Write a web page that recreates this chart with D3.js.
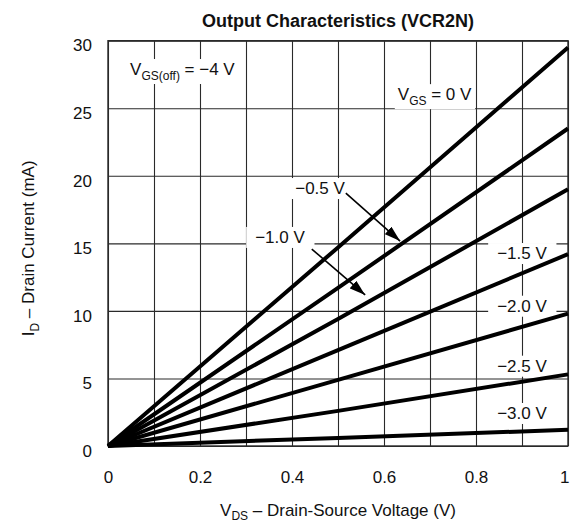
<!DOCTYPE html>
<html>
<head>
<meta charset="utf-8">
<script src="https://cdn.jsdelivr.net/npm/d3@7"></script>
<style>
  body { margin: 0; background: #fff; }
  text { font-family: "Liberation Sans", Arial, Helvetica, sans-serif; fill: #111; }
</style>
</head>
<body>
<svg id="chart"></svg>
<script>
// drain-source voltage points where the currents were read (V)
var vdsPoints = [0, 0.5, 1];

// drain current (mA) for each gate-source voltage
var currentVgs0 = [0, 14.7, 29.5];
var currentVgs05 = [0, 11.7, 23.5];
var currentVgs10 = [0, 9.4, 19.0];
var currentVgs15 = [0, 7.1, 14.2];
var currentVgs20 = [0, 4.9, 9.8];
var currentVgs25 = [0, 2.6, 5.3];
var currentVgs30 = [0, 0.6, 1.2];

var seriesNames = ["0 V", "−0.5 V", "−1.0 V", "−1.5 V", "−2.0 V", "−2.5 V", "−3.0 V"];

var xTicks = [0, 0.1, 0.2, 0.3, 0.4, 0.5, 0.6, 0.7, 0.8, 0.9, 1];
var xTickLabels = ["0", "", "0.2", "", "0.4", "", "0.6", "", "0.8", "", "1"];
var yTicks = [0, 5, 10, 15, 20, 25, 30];

// where the curve labels sit, in data units (V, mA)
var labelV = [0.630, 0.407, 0.320, 0.846, 0.846, 0.846, 0.846];
var labelI = [25.6, 18.65, 15.03, 13.84, 9.94, 5.5, 2.0];

function getVariables() {
  var width = 570;
  var height = 523;

  var x = d3.scaleLinear()
    .domain([0, 1])
    .range([108, 568]);

  var y = d3.scaleLinear()
    .domain([0, 30])
    .range([446, 40.7]);

  return [width, height, x, y];
}

function addLabel(g, px, py, parts, pad) {
  var t = g.append("text")
    .attr("x", px)
    .attr("y", py)
    .style("font-size", "17px");

  parts.forEach(p => {
    t.append("tspan")
      .attr("dy", p.dy || 0)
      .style("font-size", p.sub ? "12px" : "17px")
      .text(p.text);
  });

  if (pad !== undefined) {
    var b = t.node().getBBox();
    g.insert("rect", function() { return t.node(); })
      .attr("x", b.x - pad)
      .attr("y", b.y - 1)
      .attr("width", b.width + pad * 2)
      .attr("height", b.height + 2)
      .attr("fill", "#fff");
  }
  return t;
}

function drawChart() {
  var [width, height, x, y] = getVariables();

  var svg = d3.select("#chart")
    .attr("width", width)
    .attr("height", height);

  var plotW = x(1) - x(0);
  var plotH = y(0) - y(30);

  // vertical grid + x tick labels
  svg.append("g")
      .attr("transform", `translate(0,${y(0)})`)
      .call(d3.axisBottom(x)
        .tickValues(xTicks)
        .tickSize(-plotH)
        .tickPadding(25)
        .tickFormat((d, i) => xTickLabels[i]))
      .call(g => g.select(".domain").remove())
      .call(g => g.selectAll("line").attr("stroke", "#2a2a2a").attr("stroke-width", 1.1))
      .call(g => g.selectAll("text").style("font-size", "17px").attr("fill", "#111"))
      .call(g => g.selectAll(".tick:last-of-type text").attr("text-anchor", "end").attr("dx", 1));

  // horizontal grid + y tick labels
  svg.append("g")
      .attr("transform", `translate(${x(0)},0)`)
      .call(d3.axisLeft(y)
        .tickValues(yTicks)
        .tickSize(-plotW)
        .tickPadding(16))
      .call(g => g.select(".domain").remove())
      .call(g => g.selectAll("line").attr("stroke", "#2a2a2a").attr("stroke-width", 1.1))
      .call(g => g.selectAll("text").style("font-size", "17px").attr("fill", "#111").attr("dy", "0.6em"));

  svg.append("rect")
      .attr("x", x(0))
      .attr("y", y(30))
      .attr("width", plotW)
      .attr("height", plotH)
      .attr("fill", "none")
      .attr("stroke", "#2a2a2a")
      .attr("stroke-width", 1.4);

  // labels with white boxes over the grid
  var labels = svg.append("g");

  addLabel(labels, x(0.048), y(27.46), [
    { text: "V" },
    { text: "GS(off)", sub: true, dy: 5 },
    { text: " = −4 V", dy: -5 }
  ], 3);

  addLabel(labels, x(labelV[0]), y(labelI[0]), [
    { text: "V" },
    { text: "GS", sub: true, dy: 5 },
    { text: " = " + seriesNames[0], dy: -5 }
  ], 3);

  for (var i = 1; i < seriesNames.length; i++) {
    addLabel(labels, x(labelV[i]), y(labelI[i]), [{ text: seriesNames[i] }], 9);
  }

  // curves
  var series = [currentVgs0, currentVgs05, currentVgs10, currentVgs15,
                currentVgs20, currentVgs25, currentVgs30];

  var line = d3.line()
    .x((d, i) => x(vdsPoints[i]))
    .y(d => y(d));

  svg.append("g")
    .selectAll("path")
    .data(series)
    .enter()
    .append("path")
      .attr("d", line)
      .attr("fill", "none")
      .attr("stroke", "#000")
      .attr("stroke-width", 4)
      .attr("stroke-linecap", "butt");

  // arrows for -0.5 V and -1.0 V
  svg.append("defs")
    .append("marker")
      .attr("id", "head")
      .attr("markerUnits", "userSpaceOnUse")
      .attr("viewBox", "0 0 16 10")
      .attr("markerWidth", 16)
      .attr("markerHeight", 10)
      .attr("refX", 16)
      .attr("refY", 5)
      .attr("orient", "auto")
    .append("path")
      .attr("d", "M0,0 L16,5 L0,10 Z")
      .attr("fill", "#000");

  var arrows = [
    { from: [0.517, 18.72], to: [0.635, 15.17] },
    { from: [0.443, 14.58], to: [0.559, 11.18] }
  ];

  svg.append("g")
    .selectAll("line")
    .data(arrows)
    .enter()
    .append("line")
      .attr("x1", d => x(d.from[0]))
      .attr("y1", d => y(d.from[1]))
      .attr("x2", d => x(d.to[0]))
      .attr("y2", d => y(d.to[1]))
      .attr("stroke", "#000")
      .attr("stroke-width", 1.6)
      .attr("marker-end", "url(#head)");

  // title
  svg.append("text")
      .attr("x", (x(0) + x(1)) / 2)
      .attr("y", 27)
      .attr("text-anchor", "middle")
      .style("font-size", "18px")
      .style("font-weight", "bold")
      .text("Output Characteristics (VCR2N)");

  // x axis title
  var xt = svg.append("text")
      .attr("x", (x(0) + x(1)) / 2)
      .attr("y", 516)
      .attr("text-anchor", "middle")
      .style("font-size", "17px");
  xt.append("tspan").text("V");
  xt.append("tspan").attr("dy", 4).style("font-size", "12px").text("DS");
  xt.append("tspan").attr("dy", -4).text(" – Drain-Source Voltage (V)");

  // y axis title
  var yt = svg.append("text")
      .attr("transform", `translate(34,${(y(0) + y(30)) / 2 + 5}) rotate(-90)`)
      .attr("text-anchor", "middle")
      .style("font-size", "17px");
  yt.append("tspan").text("I");
  yt.append("tspan").attr("dy", 5).style("font-size", "12px").text("D");
  yt.append("tspan").attr("dy", -5).text(" – Drain Current (mA)");
}

drawChart();
</script>
</body>
</html>
